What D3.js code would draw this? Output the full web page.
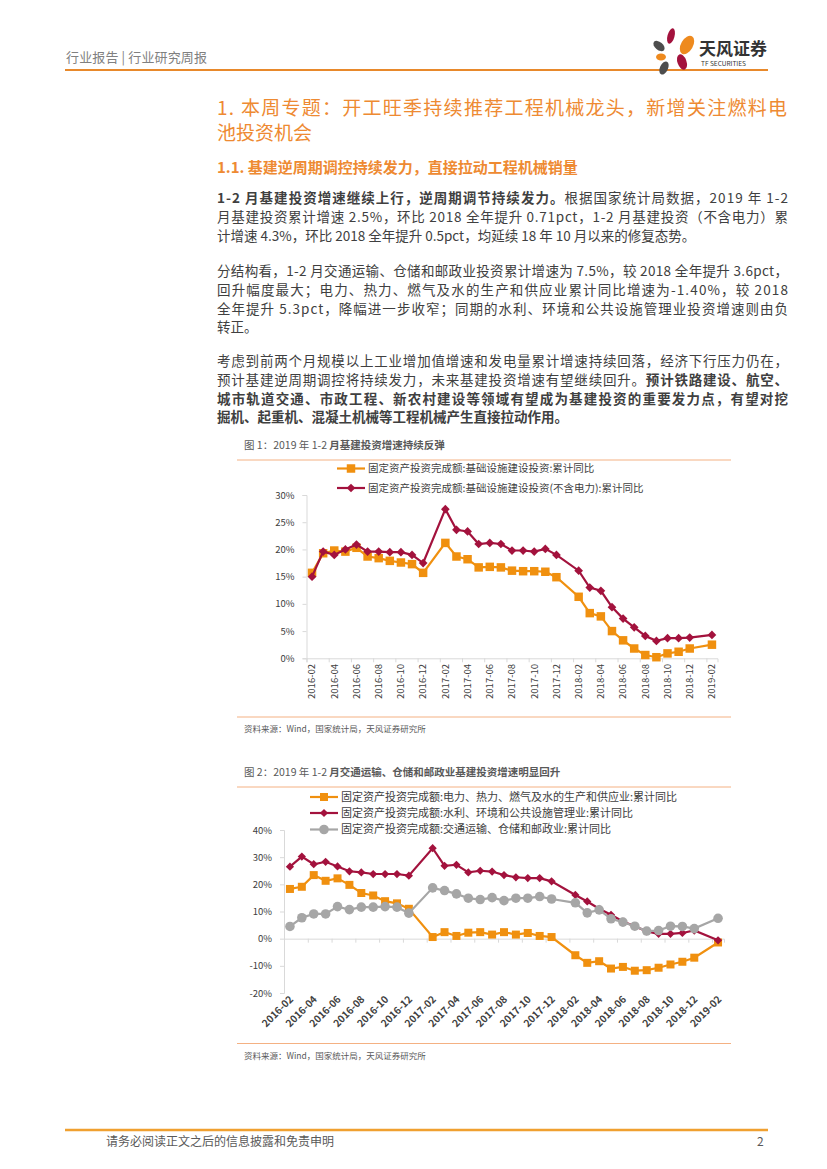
<!DOCTYPE html>
<html lang="zh">
<head>
<meta charset="UTF-8">
<title>行业研究周报</title>
<script src="https://d3js.org/d3.v7.min.js"></script>
<style>
 body { margin: 0; background: #fff; }
 svg text { font-family: "Noto Sans CJK SC", "Noto Sans", sans-serif; }
</style>
</head>
<body>
<svg id="page" width="827" height="1169"></svg>
<script>
// months on the axis (no January figures are published)
const months = [
  "2016-02","2016-03","2016-04","2016-05","2016-06","2016-07","2016-08","2016-09","2016-10","2016-11","2016-12",
  "2017-02","2017-03","2017-04","2017-05","2017-06","2017-07","2017-08","2017-09","2017-10","2017-11","2017-12",
  "2018-02","2018-03","2018-04","2018-05","2018-06","2018-07","2018-08","2018-09","2018-10","2018-11","2018-12",
  "2019-02"
];
const tickLabels = ["2016-02","2016-04","2016-06","2016-08","2016-10","2016-12","2017-02","2017-04","2017-06",
  "2017-08","2017-10","2017-12","2018-02","2018-04","2018-06","2018-08","2018-10","2018-12","2019-02"];

// chart 1
const infra = [15.7,19.3,19.8,19.6,20.3,18.7,18.4,17.9,17.6,17.3,15.7,
  21.2,18.7,18.2,16.7,16.8,16.7,16.1,16.0,16.0,15.9,14.9,
  11.3,8.3,7.7,5.0,3.3,1.8,0.6,0.2,0.9,1.2,1.8,2.5];
const infraExPower = [15.0,19.6,19.0,20.0,20.9,19.6,19.6,19.5,19.5,19.0,17.5,
  27.4,23.6,23.3,21.0,21.2,21.0,19.8,19.8,19.6,20.1,19.0,
  16.1,13.0,12.4,9.4,7.3,5.7,4.1,3.2,3.7,3.7,3.8,4.3];
const yTicks1 = [0,5,10,15,20,25,30];

// chart 2
const power = [18.3,19.1,23.4,21.3,22.2,19.8,16.8,15.9,13.8,13.0,11.0,
  0.6,2.4,1.0,2.2,2.4,1.5,2.4,1.5,2.1,1.0,0.6,
  -6.1,-8.9,-8.3,-11.0,-10.4,-11.8,-11.6,-10.7,-9.5,-8.5,-7.0,-1.4];
const water = [26.5,30.2,27.4,28.3,26.6,24.8,24.4,23.8,23.8,23.8,23.2,
  33.3,26.8,27.2,24.4,25.0,24.7,23.4,22.6,22.3,22.3,21.1,
  16.1,13.7,11.0,8.8,6.3,4.6,2.7,1.8,1.8,2.1,3.0,-0.6];
const transport = [4.5,7.7,9.1,9.1,11.8,10.7,11.6,11.6,11.8,11.6,9.4,
  18.7,17.7,16.5,14.9,14.4,15.1,14.0,14.9,14.9,15.5,14.6,
  13.2,9.5,10.6,7.3,6.1,4.6,2.8,3.0,4.6,4.5,3.7,7.5];
const yTicks2 = [-20,-10,0,10,20,30,40];

const ORANGE = "#F0900F", RED = "#A3123D", GRAY = "#A6A6A6", TXT = "#404040", HEAD = "#EE8A32";

const svg = d3.select("#page");
const monthIdx = m => { const p = m.split("-").map(Number); return (p[0] - 2016) * 12 + p[1] - 2; };

// ---------- page header ----------
svg.append("text").attr("x", 66).attr("y", 62).attr("font-size", 13).attr("fill", "#808080")
  .attr("textLength", 141).attr("lengthAdjust", "spacing")
  .text("行业报告 | 行业研究周报");
svg.append("line").attr("x1", 65).attr("x2", 768).attr("y1", 70).attr("y2", 70)
  .attr("stroke", "#E8892B").attr("stroke-width", 2);
const logo = svg.append("g");
[[671,36,3.5,8,15,RED],[687,45,6,10,30,"#EE8A1E"],[659,46,4,6.5,-50,"#4d4d4d"],
 [661,57,5,3.5,0,"#EE8A1E"],[682,62,4.5,8,-20,RED],[664,68,4,7,25,"#4d4d4d"]].forEach(p => {
  logo.append("ellipse").attr("rx", p[2]).attr("ry", p[3]).attr("fill", p[5])
    .attr("transform", `translate(${p[0]},${p[1]}) rotate(${p[4]})`);
});
svg.append("text").attr("x", 699).attr("y", 55).attr("font-size", 17).attr("font-weight", 700)
  .attr("fill", "#333").text("天风证券");
svg.append("text").attr("x", 701).attr("y", 66).attr("font-size", 6.5).attr("fill", "#333")
  .text("TF SECURITIES");

// ---------- headings & body ----------
svg.append("text").attr("x", 217).attr("y", 115).attr("font-size", 19).attr("fill", HEAD)
  .attr("textLength", 570).attr("lengthAdjust", "spacing")
  .text("1. 本周专题：开工旺季持续推荐工程机械龙头，新增关注燃料电");
svg.append("text").attr("x", 217).attr("y", 140).attr("font-size", 19).attr("fill", HEAD)
  .text("池投资机会");
svg.append("text").attr("x", 217).attr("y", 173).attr("font-size", 15).attr("font-weight", 700)
  .attr("fill", HEAD).text("1.1. 基建逆周期调控持续发力，直接拉动工程机械销量");

const paraLines = [
  {y: 203, j: true, seg: [["1-2 月基建投资增速继续上行，逆周期调节持续发力。", 1], ["根据国家统计局数据，2019 年 1-2", 0]]},
  {y: 222, j: true, seg: [["月基建投资累计增速 2.5%，环比 2018 全年提升 0.71pct，1-2 月基建投资（不含电力）累", 0]]},
  {y: 241, j: false, seg: [["计增速 4.3%，环比 2018 全年提升 0.5pct，均延续 18 年 10 月以来的修复态势。", 0]]},
  {y: 276, j: true, seg: [["分结构看，1-2 月交通运输、仓储和邮政业投资累计增速为 7.5%，较 2018 全年提升 3.6pct，", 0]]},
  {y: 295, j: true, seg: [["回升幅度最大；电力、热力、燃气及水的生产和供应业累计同比增速为-1.40%，较 2018", 0]]},
  {y: 314, j: true, seg: [["全年提升 5.3pct，降幅进一步收窄；同期的水利、环境和公共设施管理业投资增速则由负", 0]]},
  {y: 332, j: false, seg: [["转正。", 0]]},
  {y: 366, j: true, seg: [["考虑到前两个月规模以上工业增加值增速和发电量累计增速持续回落，经济下行压力仍在，", 0]]},
  {y: 385, j: true, seg: [["预计基建逆周期调控将持续发力，未来基建投资增速有望继续回升。", 0], ["预计铁路建设、航空、", 1]]},
  {y: 404, j: true, seg: [["城市轨道交通、市政工程、新农村建设等领域有望成为基建投资的重要发力点，有望对挖", 1]]},
  {y: 422, j: false, seg: [["掘机、起重机、混凝土机械等工程机械产生直接拉动作用。", 1]]}
];
paraLines.forEach(l => {
  const t = svg.append("text").attr("x", 217).attr("y", l.y).attr("font-size", 13.5).attr("fill", TXT);
  if (l.j) t.attr("textLength", 571).attr("lengthAdjust", "spacing");
  l.seg.forEach(s => t.append("tspan").attr("font-weight", s[1] ? 700 : 400).text(s[0]));
});

// ---------- chart helper ----------
function drawChart(c) {
  const g = svg.append("g");
  // title and frame lines
  const tt = g.append("text").attr("x", 244).attr("y", c.titleY).attr("font-size", 10.5).attr("fill", "#595959");
  tt.append("tspan").text(c.title[0]);
  tt.append("tspan").attr("font-weight", 700).text(c.title[1]);
  [c.titleY + 11, c.bottomY].forEach(y => g.append("line").attr("x1", 237).attr("x2", 731)
    .attr("y1", y).attr("y2", y).attr("stroke", "#F4B183").attr("stroke-width", 1));
  g.append("text").attr("x", 244).attr("y", c.bottomY + 15).attr("font-size", 8.5).attr("fill", "#595959")
    .text("资料来源：Wind，国家统计局，天风证券研究所");

  const x = d3.scaleLinear().domain([-0.5, 36.5]).range(c.xRange);
  const y = d3.scaleLinear().domain(c.yDomain).range(c.yRange);

  // y axis
  const ya = g.append("g").attr("transform", `translate(${c.xRange[0]},0)`)
    .call(d3.axisLeft(y).tickValues(c.yTicks).tickSize(4).tickPadding(c.yPad).tickFormat(d => d + "%"));
  ya.select(".domain").attr("stroke", "#D9D9D9");
  ya.selectAll(".tick line").attr("stroke", "#D9D9D9");
  ya.selectAll(".tick text").attr("font-size", c.yFont).attr("fill", TXT);

  // horizontal axis line at 0 with ticks at month boundaries
  const tickIdx = tickLabels.map(monthIdx);
  const xa = g.append("g").attr("transform", `translate(0,${y(0)})`)
    .call(d3.axisBottom(x).tickValues(tickIdx.map(i => i - 0.5)).tickSize(4).tickFormat(""));
  xa.select(".domain").attr("stroke", "#D9D9D9");
  xa.selectAll(".tick line").attr("stroke", "#D9D9D9");

  // tick labels
  g.selectAll(".xl").data(tickLabels).enter().append("text")
    .attr("font-size", c.xFont).attr("font-weight", c.xBold ? 700 : 400).attr("fill", TXT)
    .attr("text-anchor", "end").attr("dy", c.xRot === -90 ? "0.35em" : "0")
    .attr("transform", d => `translate(${x(monthIdx(d)) + c.xLabelDx},${c.xLabelY}) rotate(${c.xRot})`)
    .text(d => d);

  // series
  c.series.forEach(s => {
    const pts = months.map((m, i) => [x(monthIdx(m)), y(s.values[i])]);
    g.append("path").attr("d", d3.line()(pts)).attr("fill", "none")
      .attr("stroke", s.color).attr("stroke-width", 2.2);
    const sym = s.marker === "circle" ? d3.symbolCircle : d3.symbolSquare;
    g.selectAll(null).data(pts).enter().append("path")
      .attr("d", d3.symbol().type(sym).size(s.size))
      .attr("fill", s.color)
      .attr("transform", d => `translate(${d[0]},${d[1]})` + (s.marker === "diamond" ? " rotate(45)" : ""));
  });

  // legend
  c.series.forEach((s, k) => {
    const ly = c.legendY[k];
    g.append("line").attr("x1", c.legendX).attr("x2", c.legendX + 28).attr("y1", ly).attr("y2", ly)
      .attr("stroke", s.color).attr("stroke-width", 2.2);
    const sym = s.marker === "circle" ? d3.symbolCircle : d3.symbolSquare;
    g.append("path").attr("d", d3.symbol().type(sym).size(s.size)).attr("fill", s.color)
      .attr("transform", `translate(${c.legendX + 14},${ly})` + (s.marker === "diamond" ? " rotate(45)" : ""));
    g.append("text").attr("x", c.legendX + 31).attr("y", ly).attr("dy", "0.35em")
      .attr("font-size", c.legendFont).attr("fill", TXT).text(s.name);
  });
}

drawChart({
  title: ["图 1：2019 年 1-2 ", "月基建投资增速持续反弹"], titleY: 449, bottomY: 717,
  xRange: [306.5, 717.5], yDomain: [0, 30], yRange: [658.3, 495], yTicks: yTicks1, yPad: 8, yFont: 9.5,
  xFont: 9.5, xBold: false, xRot: -90, xLabelDx: 0, xLabelY: 664,
  legendX: 337, legendY: [468.5, 488], legendFont: 10.5,
  series: [
    {name: "固定资产投资完成额:基础设施建设投资:累计同比", values: infra, color: ORANGE, marker: "square", size: 72},
    {name: "固定资产投资完成额:基础设施建设投资(不含电力):累计同比", values: infraExPower, color: RED, marker: "diamond", size: 38}
  ]
});

drawChart({
  title: ["图 2：2019 年 1-2 ", "月交通运输、仓储和邮政业基建投资增速明显回升"], titleY: 776, bottomY: 1043.5,
  xRange: [284, 724], yDomain: [-20, 40], yRange: [993, 830], yTicks: yTicks2, yPad: 8, yFont: 9.5,
  xFont: 10, xBold: true, xRot: -45, xLabelDx: 4, xLabelY: 1000,
  legendX: 310, legendY: [797, 813, 829.5], legendFont: 11,
  series: [
    {name: "固定资产投资完成额:电力、热力、燃气及水的生产和供应业:累计同比", values: power, color: ORANGE, marker: "square", size: 64},
    {name: "固定资产投资完成额:水利、环境和公共设施管理业:累计同比", values: water, color: RED, marker: "diamond", size: 34},
    {name: "固定资产投资完成额:交通运输、仓储和邮政业:累计同比", values: transport, color: GRAY, marker: "circle", size: 72}
  ]
});

// ---------- footer ----------
svg.append("line").attr("x1", 65).attr("x2", 768).attr("y1", 1130).attr("y2", 1130)
  .attr("stroke", "#F0A030").attr("stroke-width", 2.5);
svg.append("text").attr("x", 106).attr("y", 1146).attr("font-size", 12).attr("fill", "#595959")
  .text("请务必阅读正文之后的信息披露和免责申明");
svg.append("text").attr("x", 757).attr("y", 1146).attr("font-size", 12).attr("fill", "#595959").text("2");
</script>
</body>
</html>
